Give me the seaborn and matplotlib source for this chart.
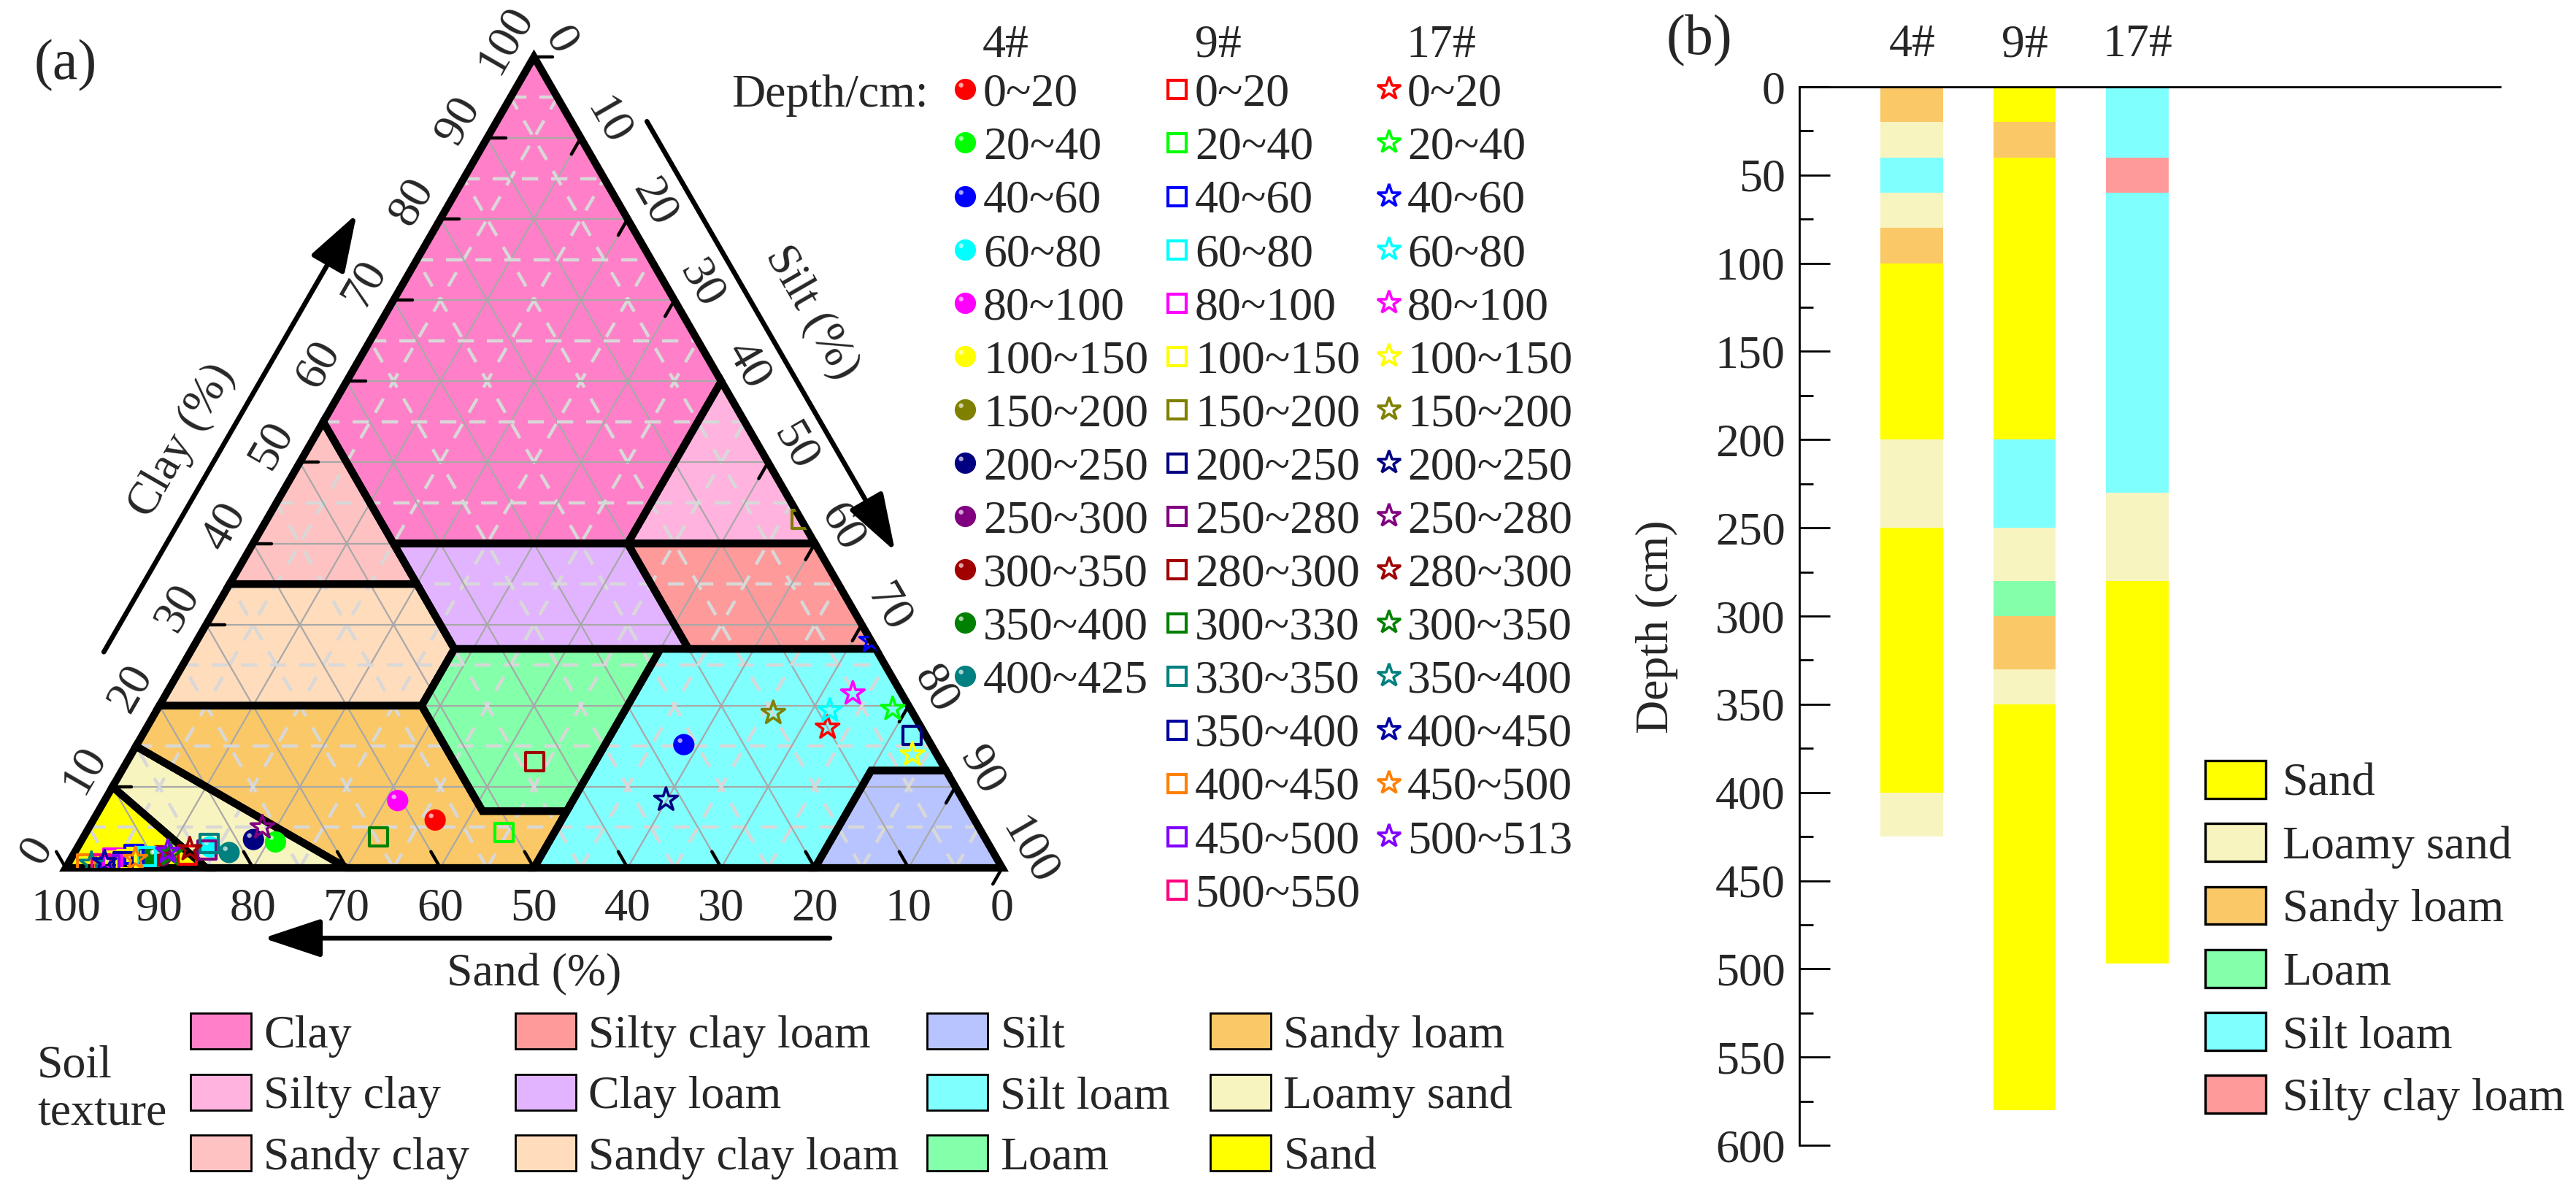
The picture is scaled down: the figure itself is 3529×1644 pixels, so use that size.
import numpy as np
import pandas as pd
import matplotlib
matplotlib.use("Agg")
import matplotlib.pyplot as plt
import seaborn as sns
from matplotlib.lines import Line2D
from matplotlib.patches import Patch, Polygon
from matplotlib.path import Path
from matplotlib.ticker import MultipleLocator

# --------------------------
# Soil texture classes (USDA)
# --------------------------
texture_names = ["Clay", "Silty clay", "Sandy clay",
                 "Silty clay loam", "Clay loam", "Sandy clay loam",
                 "Silt", "Silt loam", "Loam",
                 "Sandy loam", "Loamy sand", "Sand"]
texture_colors = ["#ff80c8", "#ffb3de", "#ffc2c2",
                  "#ff9a9a", "#e2b4ff", "#ffdcbc",
                  "#b8c4ff", "#80ffff", "#84ffaa",
                  "#fac866", "#f8f4c0", "#ffff00"]
# class boundaries as (clay %, silt %) vertices
texture_bounds = {
    "Clay": [(100, 0), (55, 0), (40, 15), (40, 40), (60, 40)],
    "Silty clay": [(60, 40), (40, 40), (40, 60)],
    "Sandy clay": [(55, 0), (35, 0), (35, 20), (40, 15)],
    "Silty clay loam": [(40, 40), (27, 53), (27, 73), (40, 60)],
    "Clay loam": [(40, 15), (27, 28), (27, 53), (40, 40)],
    "Sandy clay loam": [(35, 0), (20, 0), (20, 28), (27, 28), (35, 20)],
    "Silt": [(12, 88), (0, 100), (0, 80), (12, 80)],
    "Silt loam": [(27, 50), (27, 73), (12, 88), (12, 80), (0, 80), (0, 50), (7, 50)],
    "Loam": [(27, 28), (20, 28), (7, 41), (7, 50), (27, 50)],
    "Sandy loam": [(20, 0), (15, 0), (0, 30), (0, 50), (7, 50), (7, 41), (20, 28)],
    "Loamy sand": [(15, 0), (10, 0), (0, 15), (0, 30)],
    "Sand": [(10, 0), (0, 0), (0, 15)],
}

# --------------------------
# Sample particle composition (%), profiles 4#, 9#, 17#
# --------------------------
depth_4 = ["0~20", "20~40", "40~60", "60~80", "80~100", "100~150", "150~200",
           "200~250", "250~300", "300~350", "350~400", "400~425"]
sand_4 = [57.6, 76.0, 26.4, 83.3, 60.4, 92.0, 89.6, 78.2, 89.0, 89.4, 90.7, 81.6]
silt_4 = [36.5, 20.8, 58.4, 14.1, 31.3, 7.0, 9.0, 18.3, 9.5, 9.1, 7.9, 16.5]
clay_4 = [5.9, 3.2, 15.2, 2.6, 8.3, 1.0, 1.4, 3.5, 1.5, 1.5, 1.4, 1.9]
colors_4 = ["#ff0000", "#00ff00", "#0000ff", "#00ffff", "#ff00ff", "#ffff00",
            "#808000", "#000080", "#800080", "#a00000", "#008000", "#008080"]

depth_9 = ["0~20", "20~40", "40~60", "60~80", "80~100", "100~150", "150~200",
           "200~250", "250~280", "280~300", "300~330", "330~350", "350~400",
           "400~450", "450~500", "500~550"]
sand_9 = [86.2, 51.0, 91.9, 90.7, 94.4, 93.0, 0.0, 1.5, 83.8, 43.4, 64.7, 83.2,
          93.5, 97.5, 95.1, 96.0]
silt_9 = [12.2, 44.6, 6.4, 7.9, 4.4, 6.0, 57.0, 82.2, 14.0, 43.5, 31.5, 13.8,
          5.7, 2.0, 4.5, 3.5]
clay_9 = [1.6, 4.4, 1.7, 1.4, 1.2, 1.0, 43.0, 16.3, 2.2, 13.1, 3.8, 3.0,
          0.8, 0.5, 0.4, 0.5]
colors_9 = ["#ff0000", "#00ff00", "#0000ff", "#00ffff", "#ff00ff", "#ffff00",
            "#808000", "#000080", "#800080", "#a00000", "#008000", "#008080",
            "#0000a0", "#ff8000", "#8000ff", "#ff0080"]

depth_17 = ["0~20", "20~40", "40~60", "60~80", "80~100", "100~150", "150~200",
            "200~250", "250~280", "280~300", "300~350", "350~400", "400~450",
            "450~500", "500~513"]
sand_17 = [10.0, 1.9, 0.0, 8.7, 5.2, 2.6, 14.9, 31.7, 76.5, 85.6, 88.0, 97.0,
           95.5, 92.0, 88.1]
silt_17 = [72.7, 78.5, 72.0, 71.9, 73.3, 83.4, 66.0, 59.9, 18.5, 12.1, 10.3, 2.5,
           3.8, 6.9, 9.9]
clay_17 = [17.3, 19.6, 28.0, 19.4, 21.5, 14.0, 19.1, 8.4, 5.0, 2.3, 1.7, 0.5,
           0.7, 1.1, 2.0]
colors_17 = ["#ff0000", "#00ff00", "#0000ff", "#00ffff", "#ff00ff", "#ffff00",
             "#808000", "#000080", "#800080", "#a00000", "#008000", "#008080",
             "#0000a0", "#ff8000", "#8000ff"]

# --------------------------
# Profile layers (cm) for panel (b)
# --------------------------
profiles = ["4#", "9#", "17#"]
layers_4 = [0, 20, 40, 60, 80, 100, 200, 250, 400, 425]
texture_4 = ["Sandy loam", "Loamy sand", "Silt loam", "Loamy sand", "Sandy loam",
             "Sand", "Loamy sand", "Sand", "Loamy sand"]
layers_9 = [0, 20, 40, 200, 250, 280, 300, 330, 350, 580]
texture_9 = ["Sand", "Sandy loam", "Sand", "Silt loam", "Loamy sand", "Loam",
             "Sandy loam", "Loamy sand", "Sand"]
layers_17 = [0, 40, 60, 230, 280, 497]
texture_17 = ["Silt loam", "Silty clay loam", "Silt loam", "Loamy sand", "Sand"]
bar_legend = ["Sand", "Loamy sand", "Sandy loam", "Loam", "Silt loam", "Silty clay loam"]

# --------------------------
# Style
# --------------------------
sns.set_theme(style="white")
plt.rcParams["font.family"] = ["Liberation Serif", "DejaVu Serif"]
FS = 23
R3 = np.sqrt(3) / 2
tex_color = dict(zip(texture_names, texture_colors))


def tern(silt, clay):
    silt = np.asarray(silt, dtype=float)
    clay = np.asarray(clay, dtype=float)
    return silt + clay / 2, clay * R3


W, H = 3530, 1644
fig = plt.figure(figsize=(W / 200, H / 200), dpi=200)

# --------------------------
# (a) ternary diagram
# --------------------------
PX = 12.83  # pixels per percent
ax = fig.add_axes([0, 0, 1500 / W, 1])
ax.axis("off")

for name, verts in texture_bounds.items():
    c, s = zip(*verts)
    x, y = tern(s, c)
    ax.fill(x, y, color=tex_color[name], lw=0, zorder=1)

for v in range(5, 100, 5):
    if v % 10 == 0:
        kw = dict(color="#a8a8a8", lw=0.8, zorder=2)
    else:
        kw = dict(color="#d8d8d8", lw=1.6, ls=(0, (5, 4)), zorder=2)
    ax.plot(*tern([0, 100 - v], [v, v]), **kw)
    ax.plot(*tern([v, v], [0, 100 - v]), **kw)
    ax.plot(*tern([100 - v, 0], [0, 100 - v]), **kw)

for name, verts in texture_bounds.items():
    c, s = zip(*verts)
    x, y = tern(s, c)
    ax.add_patch(Polygon(np.c_[x, y], closed=True, fill=False, ec="black",
                         lw=3.7, joinstyle="miter", zorder=3))

TL = 2.0
for v in range(0, 101, 10):
    x0, y0 = tern(0, v)
    ax.plot([x0, x0 + TL], [y0, y0], color="black", lw=1.6, zorder=4)
    ax.text(x0 - 3.0, y0 + 1.8, str(v), rotation=60, ha="center", va="center", fontsize=FS)
    x0, y0 = tern(v, 100 - v)
    ax.plot([x0, x0 - TL / 2], [y0, y0 - TL * R3], color="black", lw=1.6, zorder=4)
    ax.text(x0 + 2.8, y0 + 1.7, str(v), rotation=-60, ha="center", va="center", fontsize=FS)
    x0, y0 = tern(100 - v, 0)
    ax.plot([x0, x0 - TL / 2], [y0, y0 + TL * R3], color="black", lw=1.6, zorder=4)
    ax.text(x0, y0 - 4.4, str(v), ha="center", va="center", fontsize=FS)

arrow_kw = dict(arrowstyle="-|>,head_length=0.9,head_width=0.3", lw=2.4, color="black",
                mutation_scale=27, shrinkA=0, shrinkB=0)


def left_pt(c, d):
    return c / 2 - R3 * d, R3 * c + 0.5 * d


def right_pt(s, d):
    return 50 + s / 2 + R3 * d, R3 * (100 - s) + 0.5 * d


ax.annotate("", xy=left_pt(76, 8), xytext=left_pt(22, 8), arrowprops=arrow_kw)
ax.annotate("", xy=right_pt(65, 7), xytext=right_pt(12, 7), arrowprops=arrow_kw)
ax.annotate("", xy=(21.1, -7.5), xytext=(81.6, -7.5), arrowprops=arrow_kw)
ax.text(*left_pt(45.7, 12), "Clay (%)", rotation=60, ha="center", va="center", fontsize=FS)
ax.text(*right_pt(38.5, 12), "Silt (%)", rotation=-60, ha="center", va="center", fontsize=FS)
ax.text(50, -11.4, "Sand (%)", ha="center", va="center", fontsize=FS)

tri_x, tri_y = tern([0, 100, 0], [0, 0, 100])
tri_clip = Polygon(np.c_[tri_x, tri_y], closed=True, transform=ax.transData)

# highlight spot on the ball markers
hl_path = Path.circle((-0.2, 0.2), 0.11)
HL_RATIO = 2 * np.abs(hl_path.vertices).max()
MS_BALL, MS_SQ, MS_STAR = 10.5, 9.0, 12.0

x4, y4 = tern(silt_4, clay_4)
df4 = pd.DataFrame({"x": x4, "y": y4, "depth": depth_4})
sns.scatterplot(data=df4, x="x", y="y", hue="depth", hue_order=depth_4, palette=colors_4,
                s=MS_BALL ** 2, edgecolor="none", legend=False, ax=ax, zorder=5)
ax.collections[-1].set_clip_path(tri_clip)
hl = ax.scatter(x4, y4, marker=hl_path, s=(HL_RATIO * MS_BALL) ** 2, c="white",
                alpha=0.65, lw=0, zorder=5.1)
hl.set_clip_path(tri_clip)

x9, y9 = tern(silt_9, clay_9)
sq = ax.scatter(x9, y9, marker="s", s=MS_SQ ** 2, facecolors="none", edgecolors=colors_9,
                linewidths=1.5, zorder=6)
sq.set_clip_path(tri_clip)

x17, y17 = tern(silt_17, clay_17)
st = ax.scatter(x17, y17, marker="*", s=MS_STAR ** 2, facecolors="none", edgecolors=colors_17,
                linewidths=1.3, zorder=7)
st.set_clip_path(tri_clip)

ax.set_xlabel("")
ax.set_ylabel("")
ax.set_xlim(-90 / PX, (1500 - 90) / PX)
ax.set_ylim(-(H - 1189) / PX, 1189 / PX)

# depth legends
h4 = [(Line2D([], [], ls="none", marker="o", ms=MS_BALL, mfc=c, mec="none"),
       Line2D([], [], ls="none", marker=hl_path, ms=HL_RATIO * MS_BALL, mfc="white",
              mec="none", alpha=0.65)) for c in colors_4]
h9 = [Line2D([], [], ls="none", marker="s", ms=MS_SQ, mfc="none", mec=c, mew=1.5)
      for c in colors_9]
h17 = [Line2D([], [], ls="none", marker="*", ms=MS_STAR, mfc="none", mec=c, mew=1.3)
       for c in colors_17]
leg_kw = dict(loc="upper left", frameon=False, fontsize=FS, handlelength=0.5,
              handletextpad=0.14, labelspacing=0.225, borderpad=0, borderaxespad=0)
for handles, labels, x_left, x_head, head in [(h4, depth_4, 1306, 1346, "4#"),
                                              (h9, depth_9, 1596, 1637, "9#"),
                                              (h17, depth_17, 1887, 1926, "17#")]:
    fig.legend(handles, labels, bbox_to_anchor=(x_left / W, 1 - 100 / H), **leg_kw)
    fig.text(x_head / W, 1 - 63 / H, head, ha="left", va="center", fontsize=FS)
fig.text(1002 / W, 1 - 131 / H, "Depth/cm:", ha="left", va="center", fontsize=FS)

# soil texture legend, one column of three classes at a time
tex_kw = dict(loc="upper left", frameon=False, fontsize=FS, handlelength=1.3,
              handleheight=0.8, handletextpad=0.27, labelspacing=0.36,
              borderpad=0, borderaxespad=0)
for k, x_left in enumerate([261, 706, 1270, 1658]):
    names = texture_names[3 * k:3 * k + 3]
    handles = [Patch(facecolor=tex_color[n], edgecolor="black", lw=1.0) for n in names]
    fig.legend(handles, names, bbox_to_anchor=(x_left / W, 1 - 1388 / H), **tex_kw)
fig.text(51 / W, 1 - 1493 / H, "Soil\ntexture", ha="left", va="center", fontsize=FS,
         linespacing=1.15)
fig.text(90 / W, 1 - 90 / H, "(a)", ha="center", va="center", fontsize=28)

# --------------------------
# (b) texture profiles
# --------------------------
ax2 = fig.add_axes([2465 / W, 1 - 1569 / H, (3425 - 2465) / W, (1569 - 119) / H])
bar_pos = np.arange(1, len(profiles) + 1)
for pos, edges, texs in zip(bar_pos, [layers_4, layers_9, layers_17],
                            [texture_4, texture_9, texture_17]):
    tops = np.array(edges[:-1])
    bots = np.array(edges[1:])
    ax2.bar(np.full(len(tops), pos), bots - tops, bottom=tops, width=0.555,
            color=[tex_color[t] for t in texs], lw=0)
ax2.set_xlim(0, (3425 - 2465) / 154.3)
ax2.set_ylim(600, 0)
for side in ["right", "bottom"]:
    ax2.spines[side].set_visible(False)
for side in ["left", "top"]:
    ax2.spines[side].set_color("black")
    ax2.spines[side].set_linewidth(1.0)
ax2.yaxis.set_major_locator(MultipleLocator(50))
ax2.yaxis.set_minor_locator(MultipleLocator(25))
ax2.tick_params(axis="y", which="major", direction="in", length=15, width=1,
                color="black", labelsize=FS, pad=7, left=True)
ax2.tick_params(axis="y", which="minor", direction="in", length=7, width=1,
                color="black", left=True)
ax2.xaxis.set_ticks_position("top")
ax2.set_xticks(bar_pos, profiles)
ax2.tick_params(axis="x", length=0, pad=10, labelsize=FS)
ax2.set_ylabel("Depth (cm)", fontsize=FS)
ax2.yaxis.set_label_coords(-0.173, 0.49)

bar_handles = [Patch(facecolor=tex_color[n], edgecolor="black", lw=1.2) for n in bar_legend]
fig.legend(bar_handles, bar_legend, loc="upper left", bbox_to_anchor=(3021 / W, 1 - 1042 / H),
           frameon=False, fontsize=FS, handlelength=1.3, handleheight=0.87,
           handletextpad=0.36, labelspacing=0.38, borderpad=0, borderaxespad=0)
fig.text(2328 / W, 1 - 56 / H, "(b)", ha="center", va="center", fontsize=28)

fig.savefig("out.png", dpi=200)
